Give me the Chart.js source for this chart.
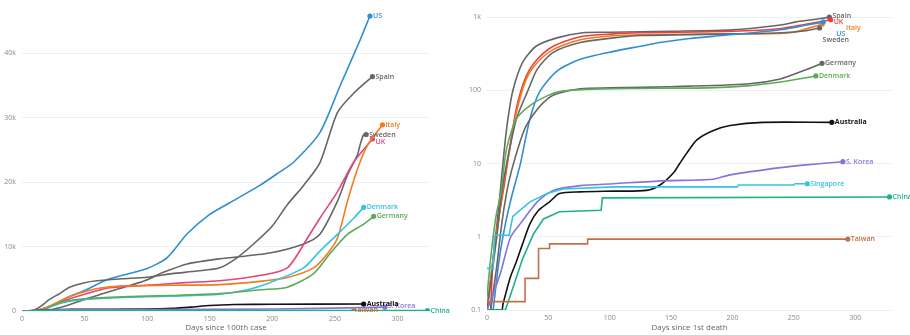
<!DOCTYPE html>
<html>
<head>
<meta charset="utf-8">
<script src="https://cdn.jsdelivr.net/npm/chart.js@4/dist/chart.umd.min.js"></script>
<style>
  body { margin: 0; background: #fff; }
  #left, #right { position: absolute; top: 0; }
  #left { left: 0; }
  #right { left: 455px; }
</style>
</head>
<body>
<canvas id="left" width="455" height="335"></canvas>
<canvas id="right" width="455" height="335"></canvas>
<script>
// Left: cases per million, days since 100th case  [day, value]
const casesUS = [[0,0],[15,50],[22,660],[35,2000],[50,3200],[70,5000],[100,6600],[116,8300],[132,12000],[150,15000],[166,16800],[190,19500],[206,21600],[217,23100],[238,27700],[254,34900],[270,42000],[278,45800]];
const casesSpain = [[0,0],[8,50],[14,600],[22,1800],[30,2700],[38,3700],[50,4400],[60,4700],[80,5000],[100,5250],[120,5800],[140,6200],[158,6700],[172,8300],[185,10400],[200,13200],[212,16500],[225,19500],[238,23000],[252,30800],[265,33800],[280,36400]];
const casesSweden = [[0,0],[18,50],[30,500],[50,1800],[65,2700],[78,3500],[98,4700],[113,6000],[132,7300],[158,8100],[198,9000],[225,10400],[238,11900],[252,17000],[260,21100],[268,24200],[270,25700],[273,27400],[275,27400]];
const casesItaly = [[0,0],[10,100],[20,600],[30,1500],[40,2400],[50,3000],[60,3500],[80,3900],[120,4000],[158,4100],[190,4600],[212,5200],[233,6700],[244,8900],[252,11300],[260,17000],[268,22000],[276,25700],[288,28900]];
const casesUK = [[0,0],[12,100],[22,700],[35,1700],[50,2600],[70,3600],[100,4000],[130,4400],[158,4700],[190,5500],[212,6700],[228,11300],[238,14400],[252,18500],[265,23100],[280,26700]];
const casesDenmark = [[0,0],[15,100],[25,800],[35,1400],[50,1800],[80,2100],[120,2300],[158,2600],[180,3300],[198,4400],[225,6700],[238,9300],[252,11900],[265,14400],[273,16100]];
const casesGermany = [[0,0],[15,100],[25,900],[35,1500],[50,1900],[80,2200],[120,2400],[158,2700],[190,3300],[212,3700],[233,5800],[246,8900],[260,11900],[273,13500],[281,14700]];
const casesAustralia = [[0,0],[20,150],[40,250],[100,300],[120,400],[135,600],[150,850],[170,1000],[200,1050],[273,1080]];
const casesKorea = [[0,0],[30,180],[100,230],[200,300],[250,450],[290,600]];
const casesTaiwan = [[0,0],[30,15],[265,30]];
const casesChina = [[0,0],[20,50],[60,60],[324,65]];

// Right: deaths per million, days since 1st death  [day, value]
const deathsSpain = [[0,0.1],[5,0.5],[10,3],[14,15],[17,40],[21,98],[29,240],[40,400],[57,520],[78,610],[100,620],[150,640],[200,670],[239,780],[252,860],[265,920],[279,1000]];
const deathsUK = [[3,0.1],[5,0.5],[10,2],[14,5],[17,11],[24,57],[32,156],[41,265],[54,400],[76,540],[103,590],[125,610],[200,640],[240,700],[260,800],[280,920]];
const deathsItaly = [[0,0.1],[5,0.5],[10,2],[14,6],[18,14],[24,50],[32,142],[41,240],[54,360],[76,490],[103,555],[125,573],[200,590],[247,610],[273,800]];
const deathsUS = [[5,0.1],[10,0.5],[15,1.5],[20,3.5],[27,9.6],[35,41],[43,96],[57,183],[76,265],[103,340],[125,400],[141,450],[165,510],[184,545],[239,670],[274,860]];
const deathsSweden = [[0,0.1],[8,1],[12,4],[16,10],[24,41],[33,96],[41,195],[54,330],[76,450],[103,520],[125,560],[200,590],[240,610],[260,650],[271,710]];
const deathsGermany = [[3,0.1],[8,0.4],[12,1.5],[16,4],[20,8],[27,20],[32,33],[41,55],[50,78],[57,90],[76,105],[100,108],[150,112],[212,122],[239,143],[261,194],[273,234]];
const deathsDenmark = [[0,0.15],[2,0.35],[5,1],[8,2.2],[11,3.7],[16,16],[24,41],[35,62],[49,84],[59,96],[80,103],[120,106],[180,108],[212,115],[239,130],[268,157]];
const deathsAustralia = [[0,0.1],[12,0.1],[13,0.12],[19,0.28],[24,0.46],[29,0.8],[35,1.5],[42,2.3],[51,3],[59,3.9],[76,4.1],[103,4.2],[130,4.3],[141,5.1],[152,7.5],[157,10],[163,14],[171,21],[184,28],[198,33],[225,36.5],[281,36.5]];
const deathsKorea = [[0,0.1],[2,0.12],[11,0.32],[19,0.97],[27,1.5],[41,3],[54,4.3],[76,5],[103,5.3],[143,5.8],[184,6.1],[198,7],[239,8.8],[260,9.6],[290,10.6]];
const deathsSingapore = [[0,0.37],[5,0.37],[6,1.05],[18,1.05],[21,1.9],[35,3],[49,3.9],[62,4.5],[103,4.8],[204,4.8],[205,5.1],[250,5.1],[251,5.3],[261,5.3]];
const deathsChina = [[0,0.1],[15,0.1],[18,0.14],[24,0.28],[29,0.5],[38,1.1],[46,1.75],[59,2.2],[93,2.3],[94,3.4],[328,3.5]];
const deathsTaiwan = [[0,0.13],[31,0.13],[31,0.27],[42,0.27],[42,0.69],[51,0.69],[51,0.8],[82,0.8],[82,0.93],[294,0.93]];

const leftTicksX = [0, 50, 100, 150, 200, 250, 300];
const leftTicksY = [0, 10000, 20000, 30000, 40000];
const rightTicksX = [0, 50, 100, 150, 200, 250, 300];
const rightTicksY = [0.1, 1, 10, 100, 1000];

const gray = '#666666';
const blue = '#2f8fd5';
const orange = '#f27b1e';
const cyan = '#35c3e6';
const green = '#5cab58';
const purple = '#8b72da';
const brown = '#c36f48';
const teal = '#1fb08e';

const toXY = arr => arr.map(p => ({x: p[0], y: p[1]}));

const line = (label, arr, color, smooth) => ({
  label: label,
  data: toXY(arr),
  borderColor: color,
  backgroundColor: color,
  borderWidth: 1.6,
  tension: smooth ? 0.25 : 0,
  pointRadius: ctx => ctx.dataIndex === ctx.dataset.data.length - 1 ? 1.8 : 0,
  pointHoverRadius: 0,
  fill: false
});

// draws country name next to last point of each line
const endLabels = {
  id: 'endLabels',
  afterDatasetsDraw(chart, args, opts) {
    const ctx = chart.ctx;
    ctx.save();
    ctx.textBaseline = 'middle';
    chart.data.datasets.forEach((ds, i) => {
      const pts = chart.getDatasetMeta(i).data;
      const p = pts[pts.length - 1];
      const sh = opts.shift[ds.label] || [0, 0];
      ctx.font = (ds.label === 'Australia' ? '700 ' : '600 ') + '7px "Open Sans"';
      ctx.fillStyle = ds.borderColor;
      ctx.fillText(ds.label, p.x + 3 + sh[0], p.y + sh[1]);
    });
    ctx.restore();
  }
};

const axisFont = {family: 'Open Sans', size: 7};
const gridStyle = {color: '#edf1f4', lineWidth: 1, drawTicks: false};

new Chart(document.getElementById('left'), {
  type: 'line',
  data: {
    datasets: [
      line('China', casesChina, teal, true),
      line('Taiwan', casesTaiwan, brown, true),
      line('S. Korea', casesKorea, purple, true),
      line('Australia', casesAustralia, '#111', true),
      line('Germany', casesGermany, green, true),
      line('Denmark', casesDenmark, cyan, true),
      line('Italy', casesItaly, orange, true),
      line('UK', casesUK, '#e2467c', true),
      line('Sweden', casesSweden, gray, true),
      line('Spain', casesSpain, gray, true),
      line('US', casesUS, blue, true)
    ]
  },
  options: {
    responsive: false,
    animation: false,
    layout: {padding: {top: 6, right: 25, left: 0, bottom: 0}},
    scales: {
      x: {
        type: 'linear', min: 0, max: 326,
        afterBuildTicks: s => { s.ticks = leftTicksX.map(v => ({value: v})); },
        afterFit: s => { s.height = 24; },
        grid: {display: false, drawTicks: false},
        border: {display: false},
        ticks: {font: axisFont, color: '#888', padding: 4, maxRotation: 0},
        title: {display: true, text: 'Days since 100th case', font: {family: 'Open Sans', size: 8}, color: '#666', padding: {top: 0, bottom: 2}}
      },
      y: {
        min: 0, max: 46700,
        afterBuildTicks: s => { s.ticks = leftTicksY.map(v => ({value: v})); },
        afterFit: s => { s.width = 22; },
        grid: gridStyle,
        border: {display: false},
        ticks: {font: axisFont, color: '#888', padding: 6, callback: v => v === 0 ? '0' : (v / 1000) + 'k'}
      }
    },
    plugins: {
      legend: {display: false},
      tooltip: {enabled: false},
      endLabels: {shift: {'UK': [0, 3], 'S. Korea': [0, -1], 'Taiwan': [-3, -1], 'Australia': [0, 0]}}
    }
  },
  plugins: [endLabels]
});

new Chart(document.getElementById('right'), {
  type: 'line',
  data: {
    datasets: [
      line('Taiwan', deathsTaiwan, brown, false),
      line('China', deathsChina, teal, false),
      line('Singapore', deathsSingapore, cyan, false),
      line('S. Korea', deathsKorea, purple, true),
      line('Australia', deathsAustralia, '#111', true),
      line('Denmark', deathsDenmark, green, true),
      line('Germany', deathsGermany, gray, true),
      line('US', deathsUS, blue, true),
      line('Sweden', deathsSweden, gray, true),
      line('Italy', deathsItaly, orange, true),
      line('UK', deathsUK, '#ee3e3e', true),
      line('Spain', deathsSpain, gray, true)
    ]
  },
  options: {
    responsive: false,
    animation: false,
    layout: {padding: {top: 5, right: 18, left: 0, bottom: 0}},
    scales: {
      x: {
        type: 'linear', min: 0, max: 330,
        afterBuildTicks: s => { s.ticks = rightTicksX.map(v => ({value: v})); },
        afterFit: s => { s.height = 25; },
        grid: {display: false, drawTicks: false},
        border: {display: false},
        ticks: {font: axisFont, color: '#888', padding: 4, maxRotation: 0},
        title: {display: true, text: 'Days since 1st death', font: {family: 'Open Sans', size: 8}, color: '#666', padding: {top: 0, bottom: 2}}
      },
      y: {
        type: 'logarithmic', min: 0.1, max: 1242,
        afterBuildTicks: s => { s.ticks = rightTicksY.map(v => ({value: v})); },
        afterFit: s => { s.width = 32; },
        grid: gridStyle,
        border: {display: false},
        ticks: {font: axisFont, color: '#888', padding: 6, callback: v => v === 1000 ? '1k' : String(v)}
      }
    },
    plugins: {
      legend: {display: false},
      tooltip: {enabled: false},
      endLabels: {shift: {'UK': [0, 2], 'Italy': [21, 4], 'US': [10, 12], 'Sweden': [0, 12], 'Spain': [0, -1]}}
    }
  },
  plugins: [endLabels]
});
</script>
</body>
</html>
